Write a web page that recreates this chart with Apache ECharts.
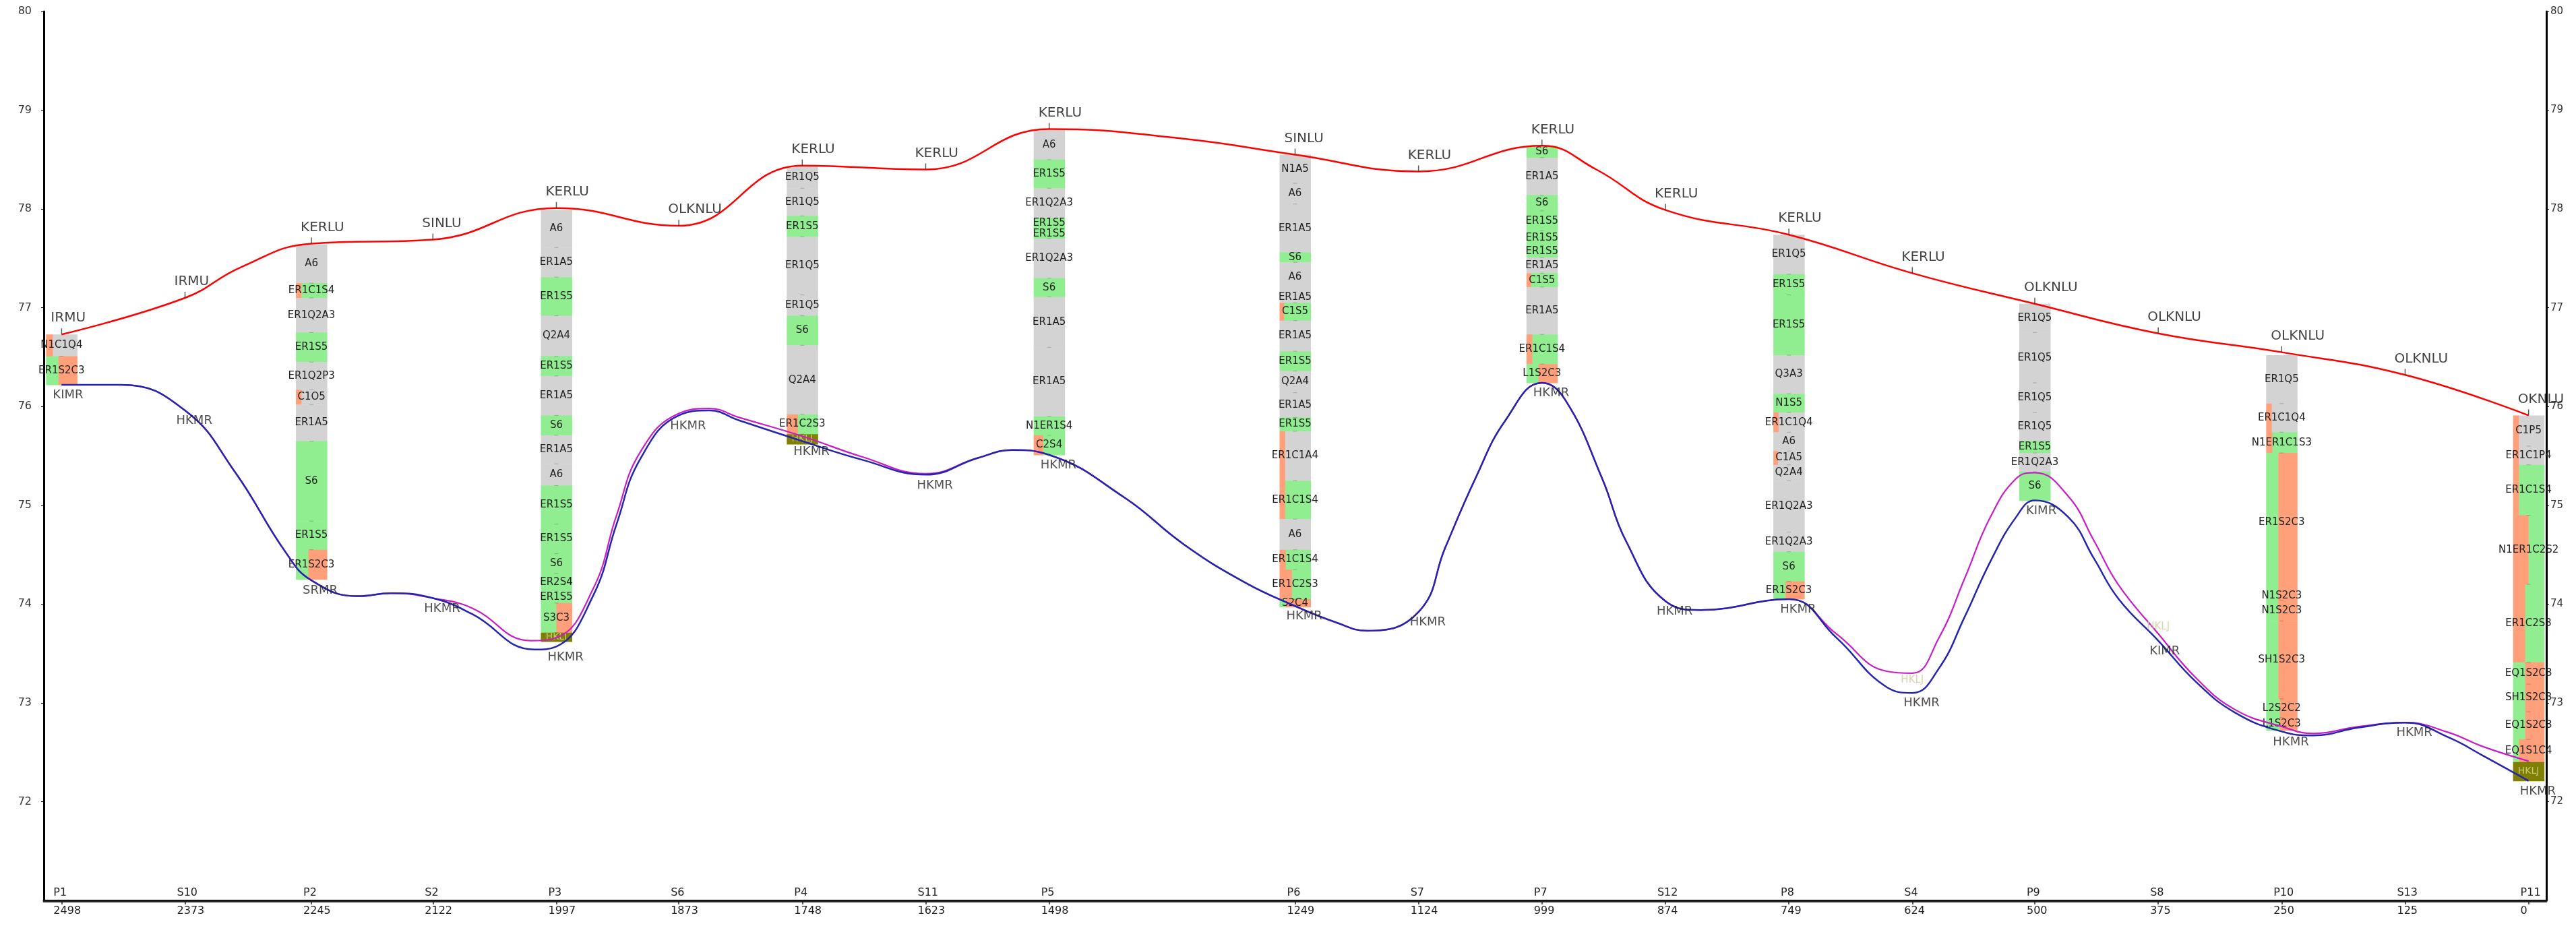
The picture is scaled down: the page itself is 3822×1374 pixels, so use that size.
<!DOCTYPE html>
<html><head><meta charset="utf-8">
<script src="https://cdn.jsdelivr.net/npm/echarts@6/dist/echarts.min.js"></script>
<style>html,body{margin:0;padding:0;background:#fff}#c{width:3822px;height:1374px}</style>
</head><body><div id="c"></div>
<script>
// ---------------- DATA ----------------
const stationNames = ['P1','S10','P2','S2','P3','S6','P4','S11','P5','P6','S7','P7','S12','P8','S4','P9','S8','P10','S13','P11'];
const stationDist  = [2498,2373,2245,2122,1997,1873,1748,1623,1498,1249,1124,999,874,749,624,500,375,250,125,0];
const topUnitNames = ['IRMU','IRMU','KERLU','SINLU','KERLU','OLKNLU','KERLU','KERLU','KERLU','SINLU','KERLU','KERLU','KERLU','KERLU','KERLU','OLKNLU','OLKNLU','OLKNLU','OLKNLU','OKNLU'];
const topSurface   = [76.73,77.10,77.65,77.69,78.01,77.83,78.44,78.40,78.81,78.55,78.38,78.64,77.99,77.74,77.35,77.04,76.74,76.55,76.32,75.91];
const baseUnitNames= ['KIMR','HKMR','SRMR','HKMR','HKMR','HKMR','HKMR','HKMR','HKMR','HKMR','HKMR','HKMR','HKMR','HKMR','HKMR','KIMR','KIMR','HKMR','HKMR','HKMR'];
const baseSurface  = [76.22,75.96,74.24,74.06,73.57,75.91,75.65,75.31,75.51,73.98,73.92,76.24,74.03,74.05,73.10,75.05,73.63,72.71,72.80,72.21];

// traced curves (distance, elevation)
const topTraceD = [2498,2373,2316.5,2245,2122,1997,1873,1748,1623,1498,1361,1249,1124,999,944,874,749,624,500,375,250,125,0];
const topTraceV = [76.73,77.10,77.41,77.65,77.69,78.01,77.83,78.44,78.40,78.81,78.71,78.55,78.38,78.64,78.40,77.99,77.74,77.35,77.04,76.74,76.55,76.32,75.91];

const baseTraceD = [2498,2438,2373,2322.6,2270.8,2245,2198,2164,2122,2082.5,2019,1997,1960,1936,1912,1873,1842,1812,1748,1687,1623,1570,1535,1498,1422,1361,1300,1249,1209,1176,1124,1097,1066.5,1036,999,975,938,914,874,838,749,701,650,624,597,571,545,519,500,466,440,415,375,336.5,297,250,217.5,172,125,81,47,0];
const baseTraceV = [76.22,76.22,75.96,75.34,74.52,74.24,74.08,74.11,74.06,73.90,73.54,73.57,74.08,74.81,75.47,75.91,75.96,75.86,75.65,75.46,75.31,75.48,75.56,75.51,75.08,74.60,74.22,73.98,73.82,73.73,73.92,74.57,75.27,75.86,76.24,76.06,75.27,74.64,74.03,73.94,74.05,73.66,73.16,73.10,73.35,73.87,74.43,74.88,75.05,74.88,74.46,74.05,73.63,73.21,72.90,72.71,72.67,72.75,72.80,72.65,72.47,72.21];

const hkljTraceD = [2498,2438,2373,2322.6,2270.8,2245,2198,2164,2122,2082.5,2023,1997,1960,1936,1912,1873,1842,1812,1748,1687,1623,1570,1535,1498,1422,1361,1300,1249,1209,1176,1124,1097,1066.5,1036,999,975,938,914,874,838,749,701,650,624,597,571,545,519,500,466,440,415,375,336.5,297,250,217.5,172,125,81,47,0];
const hkljTraceV = [76.22,76.22,75.96,75.34,74.52,74.24,74.08,74.11,74.06,73.96,73.63,73.66,74.15,74.90,75.54,75.93,75.98,75.89,75.70,75.49,75.32,75.48,75.56,75.51,75.08,74.60,74.22,73.98,73.82,73.73,73.92,74.57,75.27,75.86,76.24,76.06,75.27,74.64,74.03,73.94,74.05,73.70,73.32,73.30,73.66,74.26,74.88,75.27,75.33,75.09,74.64,74.19,73.70,73.25,72.93,72.76,72.69,72.76,72.80,72.70,72.56,72.41];

const hkljLabelDist = [624, 375];
const hkljLabelVal  = [73.23, 73.77];

// borehole layers: [label, top, bottom, composition left->right as [kind, rightEdgeFraction]]
const P1_layers = [
  ['N1C1Q4',76.73,76.51,[['c',0.22],['a',1]]],
  ['ER1S2C3',76.51,76.22,[['s',0.40],['c',1]]]
];
const P2_layers = [
  ['A6',77.64,77.25,[['a',1]]],
  ['ER1C1S4',77.25,77.10,[['c',0.18],['s',1]]],
  ['ER1Q2A3',77.10,76.75,[['a',1]]],
  ['ER1S5',76.75,76.45,[['s',1]]],
  ['ER1Q2P3',76.45,76.17,[['a',1]]],
  ['C1O5',76.17,76.02,[['c',0.18],['a',1]]],
  ['ER1A5',76.02,75.65,[['a',1]]],
  ['S6',75.65,74.84,[['s',1]]],
  ['ER1S5',74.84,74.55,[['s',1]]],
  ['ER1S2C3',74.55,74.25,[['s',0.40],['c',1]]]
];
const P3_layers = [
  ['A6',77.99,77.61,[['a',1]]],
  ['ER1A5',77.61,77.31,[['a',1]]],
  ['ER1S5',77.31,76.92,[['s',1]]],
  ['Q2A4',76.92,76.51,[['a',1]]],
  ['ER1S5',76.51,76.31,[['s',1]]],
  ['ER1A5',76.31,75.91,[['a',1]]],
  ['S6',75.91,75.71,[['s',1]]],
  ['ER1A5',75.71,75.42,[['a',1]]],
  ['A6',75.42,75.20,[['a',1]]],
  ['ER1S5',75.20,74.81,[['s',1]]],
  ['ER1S5',74.81,74.51,[['s',1]]],
  ['S6',74.51,74.31,[['s',1]]],
  ['ER2S4',74.31,74.13,[['s',1]]],
  ['ER1S5',74.13,74.01,[['s',1]]],
  ['S3C3',74.01,73.71,[['s',0.50],['c',1]]],
  ['HKLJ',73.71,73.62,[['k',1]]]
];
const P4_layers = [
  ['ER1Q5',78.43,78.21,[['a',1]]],
  ['ER1Q5',78.21,77.93,[['a',1]]],
  ['ER1S5',77.93,77.72,[['s',1]]],
  ['ER1Q5',77.72,77.13,[['a',1]]],
  ['ER1Q5',77.13,76.92,[['a',1]]],
  ['S6',76.92,76.62,[['s',1]]],
  ['Q2A4',76.62,75.92,[['a',1]]],
  ['ER1C2S3',75.92,75.72,[['c',0.36],['s',1]]],
  ['HKLJ',75.72,75.62,[['k',1]]]
];
const P5_layers = [
  ['A6',78.80,78.50,[['a',1]]],
  ['ER1S5',78.50,78.21,[['s',1]]],
  ['ER1Q2A3',78.21,77.91,[['a',1]]],
  ['ER1S5',77.91,77.80,[['s',1]]],
  ['ER1S5',77.80,77.70,[['s',1]]],
  ['ER1Q2A3',77.70,77.30,[['a',1]]],
  ['S6',77.30,77.11,[['s',1]]],
  ['ER1A5',77.11,76.60,[['a',1]]],
  ['ER1A5',76.60,75.90,[['a',1]]],
  ['N1ER1S4',75.90,75.71,[['s',1]]],
  ['C2S4',75.71,75.51,[['c',0.31],['s',1]]]
];
const P6_layers = [
  ['N1A5',78.55,78.26,[['a',1]]],
  ['A6',78.26,78.05,[['a',1]]],
  ['ER1A5',78.05,77.56,[['a',1]]],
  ['S6',77.56,77.46,[['s',1]]],
  ['A6',77.46,77.16,[['a',1]]],
  ['ER1A5',77.16,77.05,[['a',1]]],
  ['C1S5',77.05,76.87,[['c',0.15],['s',1]]],
  ['ER1A5',76.87,76.56,[['a',1]]],
  ['ER1S5',76.56,76.36,[['s',1]]],
  ['Q2A4',76.36,76.14,[['a',1]]],
  ['ER1A5',76.14,75.89,[['a',1]]],
  ['ER1S5',75.89,75.75,[['s',1]]],
  ['ER1C1A4',75.75,75.25,[['c',0.18],['a',1]]],
  ['ER1C1S4',75.25,74.86,[['c',0.18],['s',1]]],
  ['A6',74.86,74.55,[['a',1]]],
  ['ER1C1S4',74.55,74.35,[['c',0.20],['s',1]]],
  ['ER1C2S3',74.35,74.05,[['c',0.40],['s',1]]],
  ['S2C4',74.05,73.97,[['s',0.20],['c',1]]]
];
const P7_layers = [
  ['S6',78.64,78.52,[['s',1]]],
  ['ER1A5',78.52,78.14,[['a',1]]],
  ['S6',78.14,77.98,[['s',1]]],
  ['ER1S5',77.98,77.78,[['s',1]]],
  ['ER1S5',77.78,77.63,[['s',1]]],
  ['ER1S5',77.63,77.51,[['s',1]]],
  ['ER1A5',77.51,77.35,[['a',1]]],
  ['C1S5',77.35,77.21,[['c',0.15],['s',1]]],
  ['ER1A5',77.21,76.73,[['a',1]]],
  ['ER1C1S4',76.73,76.43,[['c',0.19],['s',1]]],
  ['L1S2C3',76.43,76.24,[['s',0.39],['c',1]]]
];
const P8_layers = [
  ['ER1Q5',77.74,77.34,[['a',1]]],
  ['ER1S5',77.34,77.13,[['s',1]]],
  ['ER1S5',77.13,76.52,[['s',1]]],
  ['Q3A3',76.52,76.13,[['a',1]]],
  ['N1S5',76.13,75.94,[['s',1]]],
  ['ER1C1Q4',75.94,75.74,[['c',0.17],['a',1]]],
  ['A6',75.74,75.55,[['a',1]]],
  ['C1A5',75.55,75.41,[['c',0.15],['a',1]]],
  ['Q2A4',75.41,75.25,[['a',1]]],
  ['ER1Q2A3',75.25,74.73,[['a',1]]],
  ['ER1Q2A3',74.73,74.53,[['a',1]]],
  ['S6',74.53,74.23,[['s',1]]],
  ['ER1S2C3',74.23,74.05,[['s',0.39],['c',1]]]
];
const P9_layers = [
  ['ER1Q5',77.04,76.75,[['a',1]]],
  ['ER1Q5',76.75,76.24,[['a',1]]],
  ['ER1Q5',76.24,75.94,[['a',1]]],
  ['ER1Q5',75.94,75.65,[['a',1]]],
  ['ER1S5',75.65,75.53,[['s',1]]],
  ['ER1Q2A3',75.53,75.34,[['a',1]]],
  ['S6',75.34,75.05,[['s',1]]]
];
const P10_layers = [
  ['ER1Q5',76.52,76.03,[['a',1]]],
  ['ER1C1Q4',76.03,75.74,[['c',0.18],['a',1]]],
  ['N1ER1C1S3',75.74,75.53,[['c',0.20],['s',1]]],
  ['ER1S2C3',75.53,74.13,[['s',0.39],['c',1]]],
  ['N1S2C3',74.13,74.04,[['s',0.39],['c',1]]],
  ['N1S2C3',74.04,73.83,[['s',0.39],['c',1]]],
  ['SH1S2C3',73.83,73.04,[['s',0.39],['c',1]]],
  ['L2S2C2',73.04,72.85,[['s',0.44],['c',1]]],
  ['L1S2C3',72.85,72.72,[['s',0.44],['c',1]]]
];
const P11_layers = [
  ['C1P5',75.91,75.60,[['c',0.19],['a',1]]],
  ['ER1C1P4',75.60,75.41,[['c',0.19],['a',1]]],
  ['ER1C1S4',75.41,74.90,[['c',0.19],['s',1]]],
  ['N1ER1C2S2',74.90,74.20,[['c',0.50],['s',1]]],
  ['ER1C2S3',74.20,73.41,[['c',0.39],['s',1]]],
  ['EQ1S2C3',73.41,73.19,[['s',0.39],['c',1]]],
  ['SH1S2C3',73.19,72.91,[['s',0.39],['c',1]]],
  ['EQ1S2C3',72.91,72.63,[['s',0.39],['c',1]]],
  ['EQ1S1C4',72.63,72.40,[['s',0.19],['c',1]]],
  ['HKLJ',72.40,72.21,[['k',1]]]
];
const boreholeDist = [2498,2245,1997,1748,1498,1249,999,749,500,250,0];
const boreholeLayers = [P1_layers,P2_layers,P3_layers,P4_layers,P5_layers,P6_layers,P7_layers,P8_layers,P9_layers,P10_layers,P11_layers];

// ---------------- STYLE ----------------
const FONT = '"DejaVu Sans", Verdana, sans-serif';
const fillColors = {a:'#d3d3d3', s:'#90ee90', c:'#ffa07a', k:'#808000'};
const COL_W = 31.4;          // borehole column width, in distance units
const LABEL_SHIFT = 8.2;     // x-axis label shift, in distance units
const X_MIN = -18, X_MAX = 2516;

const flat = [];
boreholeLayers.forEach((layers, bi) => {
  layers.forEach((L, li) => flat.push({d: boreholeDist[bi], label: L[0], top: L[1], bot: L[2], mix: L[3], first: li === 0}));
});

const zip = (a, b) => a.map((v, i) => [v, b[i]]);

const chart = echarts.init(document.getElementById('c'), null, {renderer: 'canvas'});

const option = {
  animation: false,
  backgroundColor: '#fff',
  textStyle: {fontFamily: FONT},
  grid: {left: 65, right: 44, top: 17, bottom: 38, containLabel: false},
  xAxis: [
    {
      type: 'value', min: X_MIN, max: X_MAX, inverse: true, position: 'bottom',
      axisLine: {show: true, onZero: false, lineStyle: {color: '#111', width: 3, shadowColor: 'rgba(0,0,0,0.35)', shadowOffsetY: 2}},
      axisTick: {show: true, length: 6, customValues: stationDist, lineStyle: {color: '#222', width: 1.5}},
      axisLabel: {
        customValues: stationDist.map(d => d + LABEL_SHIFT),
        formatter: v => String(Math.round(v - LABEL_SHIFT)),
        align: 'left', margin: 8, fontSize: 16, color: '#222', fontFamily: FONT
      },
      splitLine: {show: false}
    },
    {
      type: 'value', min: X_MIN, max: X_MAX, inverse: true, position: 'bottom', offset: 0,
      axisLine: {show: false, onZero: false}, axisTick: {show: false},
      axisLabel: {
        inside: true, margin: 3,
        customValues: stationDist.map(d => d + LABEL_SHIFT),
        formatter: v => { const i = stationDist.indexOf(Math.round(v - LABEL_SHIFT)); return i >= 0 ? stationNames[i] : ''; },
        align: 'left', fontSize: 16, color: '#222', fontFamily: FONT
      },
      splitLine: {show: false}
    }
  ],
  yAxis: [
    {
      type: 'value', min: 71, max: 80, interval: 1, position: 'left',
      axisLine: {show: true, onZero: false, lineStyle: {color: '#000', width: 3}},
      axisTick: {show: true, length: 4, lineStyle: {color: '#000'}},
      axisLabel: {showMinLabel: false, margin: 18, fontSize: 16, color: '#333', fontFamily: FONT},
      splitLine: {show: false}
    },
    {
      type: 'value', min: 71, max: 80, interval: 1, position: 'right',
      axisLine: {show: true, onZero: false, lineStyle: {color: '#000', width: 3}},
      axisTick: {show: true, length: 4, lineStyle: {color: '#000'}},
      axisLabel: {showMinLabel: false, margin: 6, fontSize: 15, color: '#333', fontFamily: FONT},
      splitLine: {show: false}
    }
  ],
  series: [
    {
      type: 'custom', coordinateSystem: 'cartesian2d', xAxisIndex: 0, yAxisIndex: 0, z: 2,
      silent: true, clip: false,
      data: flat.map(f => [f.d, f.top, f.bot]),
      encode: {x: 0, y: [1, 2]},
      renderItem: (params, api) => {
        const f = flat[params.dataIndex];
        const pT = api.coord([f.d, f.top]);
        const pB = api.coord([f.d, f.bot]);
        const w = Math.abs(api.size([COL_W, 0])[0]);
        const left = pT[0] - w / 2;
        const children = [];
        let f0 = 0;
        f.mix.forEach(([k, f1]) => {
          children.push({type: 'rect', shape: {x: left + f0 * w, y: pT[1], width: (f1 - f0) * w + 0.5, height: pB[1] - pT[1] + 0.5}, style: {fill: fillColors[k]}});
          f0 = f1;
        });
        if (!f.first) {
          children.push({type: 'rect', shape: {x: pT[0] - 3, y: pT[1] - 0.5, width: 6, height: 1}, style: {fill: 'rgba(0,0,0,0.22)'}});
        }
        return {type: 'group', children};
      }
    },
    {
      type: 'custom', coordinateSystem: 'cartesian2d', xAxisIndex: 0, yAxisIndex: 0, z: 3,
      silent: true, clip: false,
      data: flat.map(f => [f.d, (f.top + f.bot) / 2]),
      encode: {x: 0, y: 1},
      renderItem: (params, api) => {
        const f = flat[params.dataIndex];
        const p = api.coord([f.d, (f.top + f.bot) / 2]);
        const isK = f.label === 'HKLJ';
        return {
          type: 'text', x: p[0], y: p[1],
          style: {text: f.label, fill: isK ? '#c9c77a' : '#222', font: (isK ? '14px ' : '15px ') + FONT, align: 'center', verticalAlign: 'middle'}
        };
      }
    },
    {
      type: 'line', xAxisIndex: 0, yAxisIndex: 0, z: 4, smooth: 0.45, showSymbol: false, silent: true,
      data: zip(hkljTraceD, hkljTraceV),
      lineStyle: {color: '#c81ec8', width: 2.2}
    },
    {
      type: 'line', xAxisIndex: 0, yAxisIndex: 0, z: 5, smooth: 0.45, showSymbol: false, silent: true,
      data: zip(baseTraceD, baseTraceV),
      lineStyle: {color: '#2424ae', width: 2.5}
    },
    {
      type: 'line', xAxisIndex: 0, yAxisIndex: 0, z: 5, smooth: 0.45, showSymbol: false, silent: true,
      data: zip(topTraceD, topTraceV),
      lineStyle: {color: '#ff0000', width: 2.5}
    },
    {
      type: 'scatter', xAxisIndex: 0, yAxisIndex: 0, z: 6, silent: true,
      data: zip(stationDist, topSurface),
      symbol: 'rect', symbolSize: [1.5, 9], symbolOffset: [0, '-50%'],
      itemStyle: {color: '#333'},
      label: {
        show: true, position: 'top', distance: 5, align: 'left', offset: [-16, 0],
        formatter: p => topUnitNames[p.dataIndex], fontSize: 20, color: '#111', fontFamily: FONT
      }
    },
    {
      type: 'scatter', xAxisIndex: 0, yAxisIndex: 0, z: 6, silent: true,
      data: zip(stationDist, baseSurface),
      symbol: 'circle', symbolSize: 1, itemStyle: {color: 'rgba(0,0,0,0)'},
      label: {
        show: true, position: 'bottom', distance: 6, align: 'left', offset: [-13, 0],
        formatter: p => baseUnitNames[p.dataIndex], fontSize: 18, color: '#222', fontFamily: FONT
      }
    },
    {
      type: 'scatter', xAxisIndex: 0, yAxisIndex: 0, z: 6, silent: true,
      data: zip(hkljLabelDist, hkljLabelVal),
      symbol: 'circle', symbolSize: 1, itemStyle: {color: 'rgba(0,0,0,0)'},
      label: {show: true, position: 'inside', formatter: 'HKLJ', fontSize: 15, color: '#cfcb9a', fontFamily: FONT}
    }
  ]
};
chart.setOption(option);
</script>
</body></html>
